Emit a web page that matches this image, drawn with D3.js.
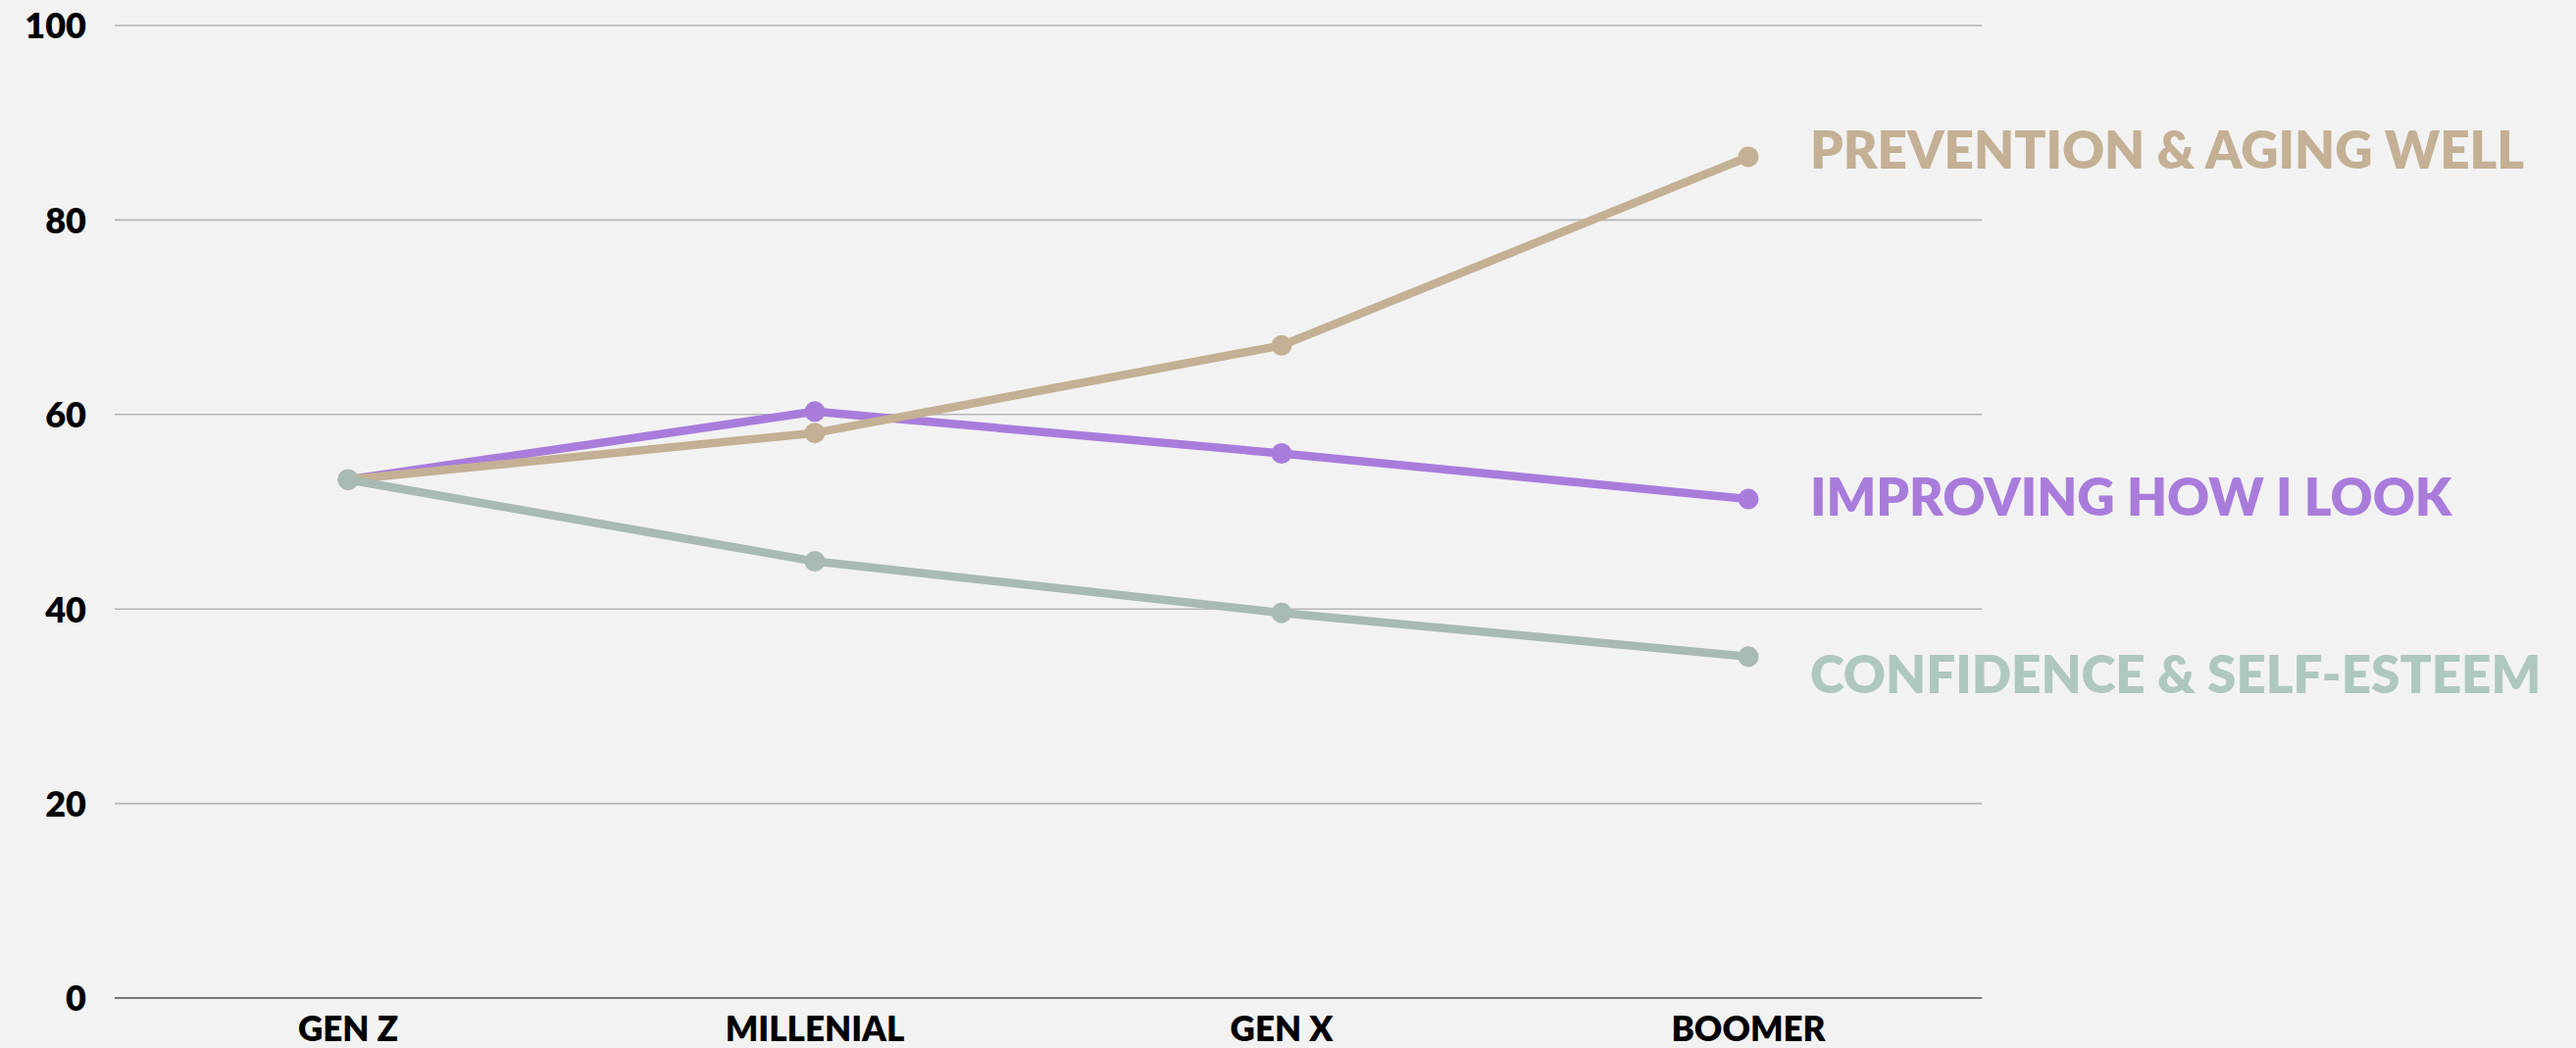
<!DOCTYPE html>
<html>
<head>
<meta charset="utf-8">
<script src="https://cdn.jsdelivr.net/npm/d3@7"></script>
<style>
  html, body { margin: 0; padding: 0; background: #f2f2f2; }
  svg { display: block; }
  text { font-family: Lato, "Open Sans", sans-serif; font-weight: 800; }
</style>
</head>
<body>
<svg id="chart" width="2627" height="1069"></svg>
<script>
// Generations along the x axis
const generations = ["GEN Z", "MILLENIAL", "GEN X", "BOOMER"];

// Share of respondents (%) per motivation, by generation
const prevention = [53.3, 58.1, 67.1, 86.5];
const improving  = [53.3, 60.3, 56.0, 51.3];
const confidence = [53.3, 44.9, 39.6, 35.1];

const seriesNames = ["PREVENTION & AGING WELL", "IMPROVING HOW I LOOK", "CONFIDENCE & SELF-ESTEEM"];
const yTicks = [0, 20, 40, 60, 80, 100];

const series = [
  { name: seriesNames[0], values: prevention, line: "#c4b094", label: "#c4b094", dy: 12 },
  { name: seriesNames[1], values: improving,  line: "#a97cdc", label: "#a97cdc", dy: 17 },
  { name: seriesNames[2], values: confidence, line: "#a7bab4", label: "#aec8bf", dy: 37 }
];

const svg = d3.select("#chart");
const margin = { left: 117, right: 606, top: 26, bottom: 51 };
const W = 2627, H = 1069;

const x = d3.scaleBand()
  .domain(generations)
  .range([margin.left, W - margin.right]);

const y = d3.scaleLinear()
  .domain([0, 100])
  .range([H - margin.bottom, margin.top]);

// Y axis labels
const yAxis = d3.axisLeft(y).tickValues(yTicks).tickSize(0).tickPadding(29);
const gY = svg.append("g").attr("transform", `translate(${margin.left},0)`).call(yAxis);
gY.select(".domain").remove();
gY.selectAll("text").attr("font-size", 36).attr("fill", "#000").attr("dy", "0.36em");

// Horizontal gridlines
svg.append("g").selectAll("line")
  .data(yTicks.filter(d => d !== 0))
  .join("line")
  .attr("x1", margin.left).attr("x2", W - margin.right)
  .attr("y1", d => y(d)).attr("y2", d => y(d))
  .attr("stroke", "#b5b5b5").attr("stroke-width", 1.6);

// Baseline axis with generation labels
const xAxis = d3.axisBottom(x).tickSize(0).tickPadding(19);
const gX = svg.append("g").attr("transform", `translate(0,${y(0)})`).call(xAxis);
gX.select(".domain").attr("stroke", "#777").attr("stroke-width", 2.2)
  .attr("d", `M${margin.left},0H${W - margin.right}`);
gX.selectAll("text").attr("font-size", 35).attr("fill", "#000");

const cx = (d, i) => x(generations[i]) + x.bandwidth() / 2;
const line = d3.line().x(cx).y(d => y(d));

const drawOrder = [1, 0, 2];
drawOrder.forEach(k => {
  const s = series[k];
  const g = svg.append("g");
  g.append("path")
    .datum(s.values)
    .attr("d", line)
    .attr("fill", "none")
    .attr("stroke", s.line)
    .attr("stroke-width", 8.5)
    .attr("stroke-linejoin", "round");
  g.selectAll("circle")
    .data(s.values)
    .join("circle")
    .attr("cx", cx)
    .attr("cy", d => y(d))
    .attr("r", 10.5)
    .attr("fill", s.line);
});

// End-of-line labels
svg.append("g").selectAll("text")
  .data(series)
  .join("text")
  .attr("x", x(generations[3]) + x.bandwidth() / 2 + 63)
  .attr("y", d => y(d.values[d.values.length - 1]) + d.dy)
  .attr("font-size", 53)
  .attr("fill", d => d.label)
  .text(d => d.name);
</script>
</body>
</html>
